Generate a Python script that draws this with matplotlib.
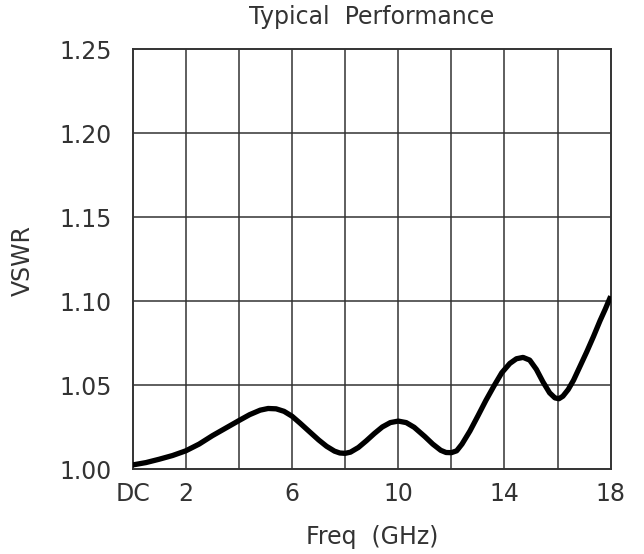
import matplotlib
matplotlib.use("Agg")
import matplotlib.pyplot as plt

plt.rcParams['font.family'] = ['DejaVu Sans']

# values
freq = [0, 0.5, 1, 1.5, 2, 2.5, 3, 3.5, 4, 4.4, 4.8, 5.1, 5.4, 5.7, 6, 6.3,
        6.6, 7, 7.3, 7.6, 7.8, 8, 8.2, 8.5, 8.8, 9.1, 9.4, 9.7, 10, 10.3,
        10.6, 11, 11.3, 11.6, 11.8, 12, 12.2, 12.4, 12.7, 13.0, 13.3, 13.6,
        13.9, 14.2, 14.45, 14.7, 14.95, 15.2, 15.45, 15.7, 15.9, 16.05,
        16.2, 16.4, 16.6, 16.85, 17.1, 17.35, 17.6, 17.8, 18]
vswr = [1.0026, 1.0040, 1.0060, 1.0082, 1.0110, 1.0150, 1.0200, 1.0245,
        1.0290, 1.0325, 1.0352, 1.0362, 1.0360, 1.0345, 1.0316, 1.0275,
        1.0232, 1.0175, 1.0137, 1.0108, 1.0097, 1.0095, 1.0102, 1.0130,
        1.0170, 1.0213, 1.0252, 1.0278, 1.0287, 1.0278, 1.0250, 1.0195,
        1.0150, 1.0113, 1.0100, 1.0099, 1.0110, 1.0150, 1.0228, 1.0318,
        1.0410, 1.0495, 1.0575, 1.0630, 1.0658, 1.0666, 1.0650, 1.0595,
        1.0520, 1.0455, 1.0425, 1.0420, 1.0435, 1.0475, 1.0530, 1.0615,
        1.0700, 1.0790, 1.0885, 1.0955, 1.1030]

xtick_pos = [0, 2, 6, 10, 14, 18]
xtick_lab = ['DC', '2', '6', '10', '14', '18']
ytick_pos = [1.00, 1.05, 1.10, 1.15, 1.20, 1.25]
grid_x = [2, 4, 6, 8, 10, 12, 14, 16]

fig = plt.figure(figsize=(6.44, 5.54), dpi=100)
ax = fig.add_axes([132.7 / 644, 1 - 469.3 / 554, 478 / 644, 420 / 554])

for g in grid_x:
    ax.axvline(g, color='#333333', lw=1.1, zorder=1)
for g in ytick_pos[1:-1]:
    ax.axhline(g, color='#333333', lw=1.1, zorder=1)

ax.plot(freq, vswr, color='black', lw=3.8, solid_joinstyle='round',
        solid_capstyle='butt', zorder=3)

ax.set_xlim(0, 18)
ax.set_ylim(1.00, 1.25)
ax.set_xticks(xtick_pos)
ax.set_xticklabels(xtick_lab)
ax.set_yticks(ytick_pos)
ax.set_yticklabels(['%.2f' % v for v in ytick_pos])
ax.tick_params(length=0, labelsize=17, colors='#333333')
ax.tick_params(axis='x', pad=9)
ax.tick_params(axis='y', pad=15)
for s in ax.spines.values():
    s.set_color('#333333')
    s.set_linewidth(1.4)

fig.text(371.7 / 644, 1 - 17 / 554, 'Typical  Performance', fontsize=17,
         ha='center', va='center', color='#333333')
fig.text(371.7 / 644, 1 - 537 / 554, 'Freq  (GHz)', fontsize=17,
         ha='center', va='center', color='#333333')
fig.text(23 / 644, 1 - 261 / 554, 'VSWR', fontsize=17, rotation=90,
         ha='center', va='center', color='#333333')

fig.savefig('out.png', dpi=100)
